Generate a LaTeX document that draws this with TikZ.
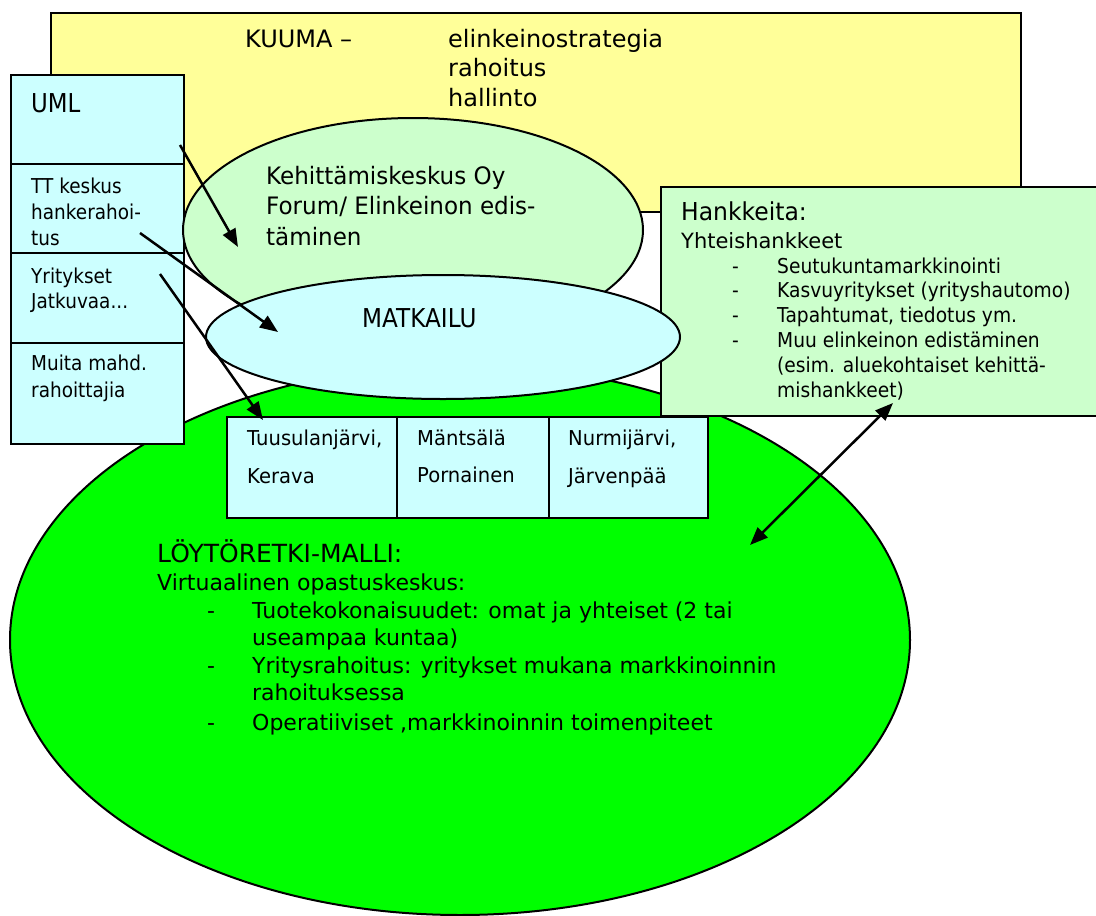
\documentclass[tikz,border=0pt]{standalone}
\usepackage{fontspec}
\setmainfont{DejaVu Sans}
\usetikzlibrary{shapes.geometric,arrows.meta}
\definecolor{kuumayellow}{HTML}{FFFF99}
\definecolor{umlcyan}{HTML}{CCFFFF}
\definecolor{forumgreen}{HTML}{CCFFCC}
\definecolor{loytogreen}{HTML}{00FF00}
\newcommand{\fs}[2]{\fontsize{#1}{#1}\selectfont\addfontfeature{FakeStretch=#2}}
\tikzset{
 box/.style={draw,line width=2pt,rectangle,inner sep=0pt,anchor=north west},
 oval/.style={draw,line width=2pt,ellipse,inner sep=0pt},
 txt/.style={anchor=base west,inner sep=0pt},
 arr/.style={line width=2.5pt,-{Triangle[length=18pt,width=14pt]}},
 darr/.style={line width=2.5pt,{Triangle[length=18pt,width=14pt]}-{Triangle[length=18pt,width=14pt]}},
}
\begin{document}
\begin{tikzpicture}[x=1pt,y=-1pt]
\useasboundingbox (0,0) rectangle (1096,916);
%background shapes
 \node[box,fill=kuumayellow,minimum width=970pt,minimum height=199pt] (kuuma) at (50,12) {}; %KUUMA
 \node[oval,fill=loytogreen,minimum width=900pt,minimum height=550pt] (loyto) at (460,640) {}; %big ellipse
%left column
 \node[box,fill=umlcyan,minimum width=173pt,minimum height=89pt] (uml) at (10,74) {};
 \node[box,fill=umlcyan,minimum width=173pt,minimum height=89pt] (tt) at (10,163) {};
 \node[box,fill=umlcyan,minimum width=173pt,minimum height=90pt] (yrit) at (10,252) {};
 \node[box,fill=umlcyan,minimum width=173pt,minimum height=101pt] (muita) at (10,342) {};
%middle
 \node[oval,fill=forumgreen,minimum width=460pt,minimum height=224pt] (forum) at (413,230) {}; %Kehittamiskeskus
 \node[box,fill=forumgreen,minimum width=440pt,minimum height=229pt] (hank) at (660,186) {}; %Hankkeita
 \node[oval,fill=umlcyan,minimum width=474pt,minimum height=124pt] (matk) at (443,337) {}; %MATKAILU
%kunnat
 \node[box,fill=umlcyan,minimum width=170pt,minimum height=101pt] (kunta1) at (226,416) {};
 \node[box,fill=umlcyan,minimum width=152pt,minimum height=101pt] (kunta2) at (396,416) {};
 \node[box,fill=umlcyan,minimum width=159pt,minimum height=101pt] (kunta3) at (548,416) {};
%arrows
 \coordinate (umlA) at (180,145); \coordinate (forumA) at (238,247);
 \coordinate (ttA) at (140,233); \coordinate (matkA) at (278,332);
 \coordinate (yritA) at (160,274); \coordinate (kuntaA) at (263,420);
 \coordinate (hankA) at (893,403); \coordinate (loytoA) at (750,545);
 \draw[arr] (umlA) -- (forumA);
 \draw[arr] (ttA) -- (matkA);
 \draw[arr] (yritA) -- (kuntaA);
 \draw[darr] (hankA) -- (loytoA);
%texts
 \begin{scope}[font=\fs{24}{1}]
  \node[txt] (kuumatxt) at (245,47) {KUUMA –};
  \foreach \t [count=\i] in {elinkeinostrategia,rahoitus,hallinto}
   \node[txt] (teht\i) at (448,{47+29.5*(\i-1)}) {\t};
 \end{scope}
 \node[txt,font=\fs{26}{0.88}] (umltxt) at (31,112) {UML};
 \begin{scope}[font=\fs{20.5}{0.9}]
  \foreach \t [count=\i] in {TT keskus,hankerahoi-,tus}
   \node[txt] (tttxt\i) at (31,{193+26*(\i-1)}) {\t};
  \node[txt] (yrittxt1) at (31,283) {Yritykset};
  \node[txt] (yrittxt2) at (31,308) {Jatkuvaa...};
  \node[txt] (muitatxt1) at (31,370) {Muita mahd.};
  \node[txt] (muitatxt2) at (31,397) {rahoittajia};
 \end{scope}
 \begin{scope}[font=\fs{24}{0.96}]
  \foreach \t [count=\i] in {Kehittämiskeskus Oy,Forum/ Elinkeinon edis-,täminen}
   \node[txt] (forumtxt\i) at (266,{184+30.5*(\i-1)}) {\t};
 \end{scope}
 \node[txt,font=\fs{26}{0.89}] (matktxt) at (362,327) {MATKAILU};
 \node[txt,font=\fs{24.7}{0.95}] (hanktxt) at (681,220) {Hankkeita:};
 \node[txt,font=\fs{21}{1}] (yhttxt) at (681,248) {Yhteishankkeet};
 \begin{scope}[font=\fs{20.5}{0.91}]
  \foreach \t [count=\i] in {Seutukuntamarkkinointi,Kasvuyritykset (yrityshautomo),{Tapahtumat, tiedotus ym.},Muu elinkeinon edistäminen,{(esim. aluekohtaiset kehittä-},{mishankkeet)}}
   \node[txt] (hanklist\i) at (777,{273+24.8*(\i-1)}) {\t};
  \foreach \i in {1,...,4}
   \node[txt] (hankdash\i) at (732,{273+24.8*(\i-1)}) {-};
 \end{scope}
 \begin{scope}[font=\fs{20.5}{0.955}]
  \node[txt] (kunta1a) at (247,445) {Tuusulanjärvi,};
  \node[txt] (kunta1b) at (247,483) {Kerava};
  \node[txt] (kunta2a) at (417,445) {Mäntsälä};
  \node[txt] (kunta2b) at (417,482) {Pornainen};
  \node[txt] (kunta3a) at (568,445) {Nurmijärvi,};
  \node[txt] (kunta3b) at (568,483) {Järvenpää};
 \end{scope}
 \node[txt,font=\fs{25}{1}] (loytotxt) at (157,562) {LÖYTÖRETKI-MALLI:};
 \begin{scope}[font=\fs{22}{1}]
  \node[txt] (virtxt) at (157,590) {Virtuaalinen opastuskeskus:};
  \node[txt] (loyto1) at (252,618) {Tuotekokonaisuudet: omat ja yhteiset (2 tai};
  \node[txt] (loyto2) at (252,645) {useampaa kuntaa)};
  \node[txt] (loyto3) at (252,673) {Yritysrahoitus: yritykset mukana markkinoinnin};
  \node[txt] (loyto4) at (252,700) {rahoituksessa};
  \node[txt] (loyto5) at (252,730) {Operatiiviset ,markkinoinnin toimenpiteet};
  \node[txt] (loytodash1) at (207,618) {-};
  \node[txt] (loytodash2) at (207,673) {-};
  \node[txt] (loytodash3) at (207,730) {-};
 \end{scope}
\end{tikzpicture}
\end{document}
